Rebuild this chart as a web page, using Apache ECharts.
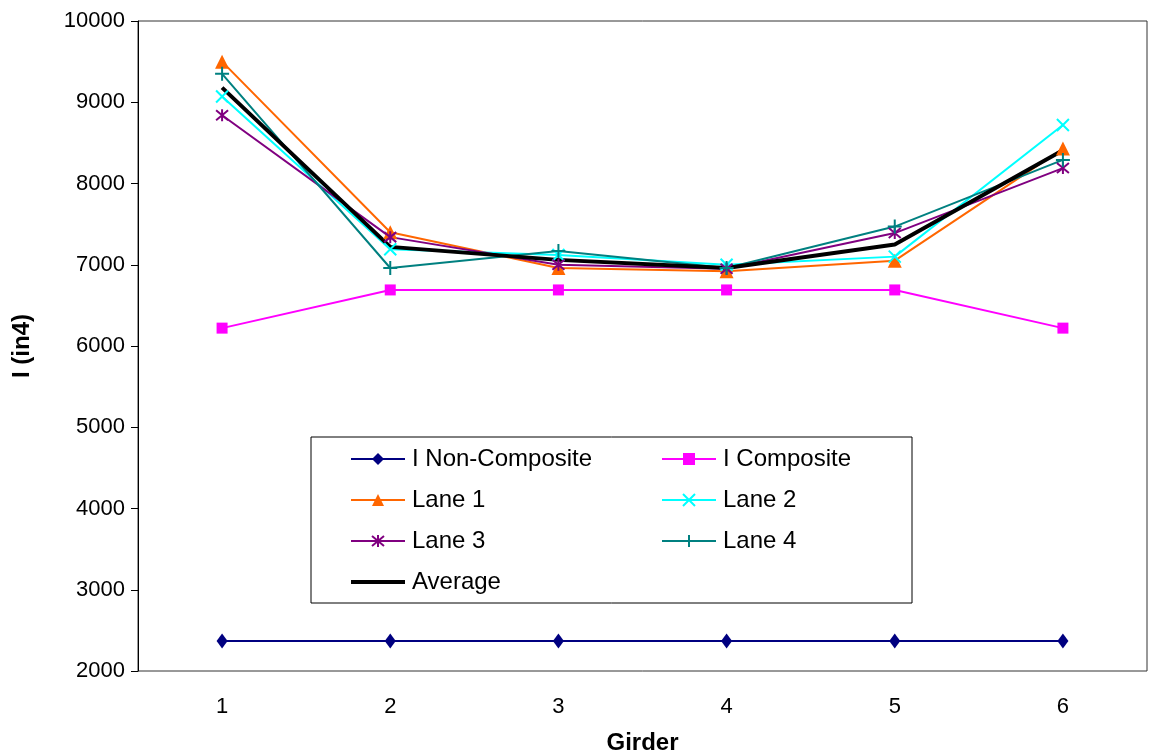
<!DOCTYPE html>
<html>
<head>
<meta charset="utf-8">
<script src="https://cdn.jsdelivr.net/npm/echarts@6/dist/echarts.min.js"></script>
<style>
html,body{margin:0;padding:0;background:#fff;}
#chart{width:1149px;height:755px;}
</style>
</head>
<body>
<div id="chart"></div>
<script>
const girders = ['1', '2', '3', '4', '5', '6'];
const nonComposite = [2370, 2370, 2370, 2370, 2370, 2370];
const composite = [6220, 6690, 6690, 6690, 6690, 6220];
const lane1 = [9500, 7400, 6960, 6920, 7050, 8430];
const lane2 = [9070, 7190, 7120, 7000, 7100, 8720];
const lane3 = [8840, 7340, 7000, 6950, 7390, 8190];
const lane4 = [9350, 6960, 7170, 6960, 7470, 8290];
const average = [9180, 7220, 7060, 6960, 7250, 8410];
const yTicks = { min: 2000, max: 10000, step: 1000 };

const FONT = '"Liberation Sans", Arial, sans-serif';
const P_CROSS = 'path://M0,0L10,10M10,0L0,10';
const P_STAR = 'path://M0,0L10,10M10,0L0,10M5,-1L5,11';
const P_PLUS = 'path://M5,0L5,10M0,5L10,5';

function lineSeries(name, data, color, symbol, size, strokeSym, width) {
  const s = {
    name: name, type: 'line', data: data,
    symbol: symbol, symbolSize: size,
    showSymbol: symbol !== 'none',
    lineStyle: { color: color, width: width || 2 },
    itemStyle: { color: color },
    emphasis: { disabled: true },
    animation: false
  };
  if (strokeSym) {
    s.itemStyle = { color: 'none', borderColor: color, borderWidth: 2 };
  }
  return s;
}

const chart = echarts.init(document.getElementById('chart'));
const legendCommon = {
  orient: 'vertical',
  padding: 0,
  itemWidth: 54,
  itemHeight: 15,
  itemGap: 17,
  textStyle: { fontFamily: FONT, fontSize: 24, color: '#000', lineHeight: 24, padding: [0, 0, 0, 2] },
  selectedMode: false
};
chart.setOption({
  backgroundColor: '#fff',
  animation: false,
  grid: { left: 138, right: 2, top: 21, bottom: 84, show: true, borderColor: '#333', borderWidth: 1,
    containLabel: false, outerBoundsMode: 'none' },
  xAxis: {
    type: 'category', data: girders, boundaryGap: true,
    axisLine: { show: false }, axisTick: { show: false },
    axisLabel: { fontFamily: FONT, fontSize: 22, color: '#000', margin: 25 },
    name: 'Girder', nameLocation: 'middle', nameGap: 60,
    nameTextStyle: { fontFamily: FONT, fontSize: 24, fontWeight: 'bold', color: '#000' }
  },
  yAxis: {
    type: 'value', min: yTicks.min, max: yTicks.max, interval: yTicks.step,
    axisLine: { show: true, lineStyle: { color: '#000', width: 1 } },
    axisTick: { show: true, length: 7, lineStyle: { color: '#000' } },
    splitLine: { show: false },
    axisLabel: { fontFamily: FONT, fontSize: 22, color: '#000', margin: 13, formatter: function (v) { return String(v); } },
    name: 'I (in4)', nameLocation: 'middle', nameGap: 104,
    nameTextStyle: { fontFamily: FONT, fontSize: 24, fontWeight: 'bold', color: '#000' }
  },
  graphic: [{
    type: 'rect', shape: { x: 311, y: 437, width: 601, height: 166 },
    style: { fill: '#fff', stroke: '#000', lineWidth: 1 }, z: 3
  }],
  legend: [
    Object.assign({ left: 349, top: 447, z: 10,
      data: ['I Non-Composite', 'Lane 1', 'Lane 3',
        { name: 'Average', itemStyle: { opacity: 0 }, lineStyle: { width: 4 } }] }, legendCommon),
    Object.assign({ left: 661, top: 447, z: 10, data: ['I Composite', 'Lane 2', 'Lane 4'] }, legendCommon)
  ],
  series: [
    lineSeries('I Non-Composite', nonComposite, '#000080', 'diamond', [11, 15]),
    lineSeries('I Composite', composite, '#FF00FF', 'rect', 11),
    lineSeries('Lane 1', lane1, '#FF6600', 'triangle', 14),
    lineSeries('Lane 2', lane2, '#00FFFF', P_CROSS, 12, true),
    lineSeries('Lane 3', lane3, '#800080', P_STAR, 12, true),
    lineSeries('Lane 4', lane4, '#008080', P_PLUS, 14, true),
    lineSeries('Average', average, '#000000', 'none', 0, false, 4)
  ]
});
</script>
</body>
</html>
